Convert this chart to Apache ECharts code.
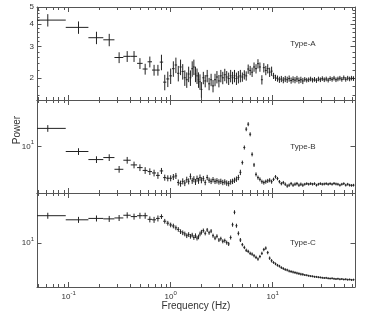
<!DOCTYPE html>
<html><head><meta charset="utf-8">
<script src="https://cdn.jsdelivr.net/npm/echarts@6/dist/echarts.min.js"></script>
<style>html,body{margin:0;padding:0;background:#fff}#c{width:374px;height:312px}</style>
</head><body><div id="c"></div>
<script>
// Frequencies (Hz)
const freq = [0.0625,0.125,0.1875,0.25,0.3125,0.375,0.4375,0.5,0.5625,0.625,0.6875,0.75,0.8125,0.875,0.9375,1.0,
  1.0625,1.125,1.1875,1.25,1.3125,1.375,1.4375,1.5,1.5625,1.625,1.6875,1.75,1.8125,1.875,1.9375,2.0,
  2.09,2.18,2.28,2.38,2.49,2.6,2.72,2.84,2.97,3.1,
  3.24,3.39,3.54,3.7,3.87,4.04,4.22,4.41,4.61,4.82,
  5.04,5.27,5.5,5.75,6.01,6.28,6.56,6.86,7.17,7.49,
  7.83,8.18,8.55,8.93,9.33,9.75,10.19,10.65,11.13,11.63,
  12.15,12.7,13.27,13.87,14.49,15.14,15.82,16.53,17.28,18.06,
  18.87,19.72,20.6,21.53,22.5,23.51,24.57,25.68,26.83,28.04,
  29.3,30.62,32.0,33.44,34.94,36.51,38.16,39.87,41.67,43.54,
  45.5,47.55,49.69,51.93,54.26,56.71,59.26,61.93];

// Power values
const powerA = [4.22,3.84,3.36,3.27,2.60,2.64,2.64,2.41,2.24,2.46,2.21,2.21,2.45,1.89,1.97,2.05,
  2.25,2.36,2.12,2.30,2.17,2.00,1.95,2.10,2.00,2.25,2.30,2.10,2.05,1.95,1.90,1.72,
  2.00,1.92,2.05,1.85,1.95,1.80,1.95,2.02,1.92,2.05,
  2.00,2.08,2.02,1.98,2.05,2.00,2.05,1.98,2.02,2.05,
  2.02,2.08,2.05,2.24,2.20,2.15,2.30,2.25,2.40,2.30,
  1.95,2.28,2.20,2.25,2.15,2.18,2.05,2.00,1.98,1.95,
  1.97,1.94,1.97,1.95,1.98,1.93,1.96,1.94,1.97,1.93,
  1.95,1.92,1.96,1.94,1.95,1.97,1.94,1.96,1.93,1.97,
  1.95,1.98,1.95,1.97,1.94,1.98,1.96,1.99,1.95,1.97,
  1.99,1.96,2.00,1.96,1.99,1.97,1.99,1.98];
const powerB = [13.1,9.28,8.23,8.48,7.12,8.15,7.6,7.3,7.0,6.88,6.74,6.5,6.95,6.29,6.23,6.23,
  6.35,6.45,5.85,5.75,5.95,5.8,6.1,5.95,6.4,6.0,6.15,5.9,6.2,6.0,6.3,6.05,
  6.2,5.85,6.3,6.05,5.95,6.1,5.95,6.0,5.9,5.95,
  5.85,5.9,5.8,5.75,5.9,5.95,6.05,6.15,6.3,6.8,
  7.87,9.85,12.95,13.95,12.0,8.9,7.6,6.6,6.29,6.13,
  5.92,5.84,5.92,5.99,6.05,5.92,6.13,6.37,6.2,5.92,
  5.75,5.84,5.7,5.55,5.62,5.75,5.62,5.7,5.75,5.62,
  5.7,5.62,5.7,5.75,5.7,5.75,5.7,5.75,5.62,5.7,
  5.75,5.7,5.72,5.75,5.7,5.75,5.7,5.77,5.72,5.7,
  5.62,5.7,5.75,5.62,5.7,5.62,5.6,5.62];
const powerC = [15.1,14.2,14.5,14.4,14.6,15.2,14.9,15.1,15.1,14.3,14.2,14.5,14.9,13.9,13.5,13.15,
  12.95,12.6,12.3,11.9,11.7,11.5,11.2,11.4,11.1,11.3,10.9,11.2,10.8,11.0,11.5,11.8,
  12.1,11.6,12.2,11.7,12.0,11.2,10.8,11.1,10.5,10.7,
  10.3,10.4,10.1,9.9,10.9,13.2,15.9,13.0,11.6,10.5,
  9.8,9.4,9.0,8.85,8.6,8.5,8.3,8.1,7.9,8.2,
  8.6,9.1,9.3,8.7,8.0,7.7,7.5,7.35,7.2,7.1,
  6.95,6.85,6.75,6.7,6.6,6.55,6.5,6.45,6.4,6.35,
  6.3,6.28,6.22,6.2,6.15,6.12,6.1,6.06,6.05,6.02,
  6.0,5.97,5.95,5.96,5.92,5.9,5.92,5.88,5.86,5.88,
  5.84,5.86,5.82,5.84,5.8,5.82,5.78,5.8];

// Relative errors (%)
const errA = [8,8,8,8,7,7,7,7,7,7,7,7,10,10,10,10,
  10,10,10,10,10,10,10,10,10,10,10,10,10,10,10,10,
  8,8,8,8,8,8,8,8,8,8, 8,8,8,8,8,8,8,8,8,8,
  6,6,6,6,6,6,6,6,6,6, 6,6,6,6,6,6,
  4,4,4,4, 4,4,4,4,4,4,4,4,4,4, 4,4,
  3,3,3,3,3,3,3,3, 3,3,3,3,3,3,3,3,3,3, 3,3,3,3,3,3,3,3];
const errB = [5,5,5,5,5,5,5,5,5,5,5,5,4.5,4.5,4.5,4.5,
  4.5,4.5,4.5,4.5,4.5,4.5,4.5,4.5,4.5,4.5,4.5,4.5,4.5,4.5,4.5,4.5,
  4,4,4,4,4,4,4,4,4,4, 4,4,4,4,4,4,4,4,4,4,
  3,3,3,3,3,3,3,3,3,3, 3,3,3,3,3,3,
  2.5,2.5,2.5,2.5, 2.5,2.5,2.5,2.5,2.5,2.5,2.5,2.5,2.5,2.5, 2.5,2.5,
  2,2,2,2,2,2,2,2, 2,2,2,2,2,2,2,2,2,2, 2,2,2,2,2,2,2,2];
const errC = [4.5,4.5,4.5,4.5,4.5,4.5,4.5,4.5,4.5,4.5,4.5,4.5,3.5,3.5,3.5,3.5,
  3.5,3.5,3.5,3.5,3.5,3.5,3.5,3.5,3.5,3.5,3.5,3.5,3.5,3.5,3.5,3.5,
  3,3,3,3,3,3,3,3,3,3, 3,3,3,3,3,3,3,3,3,3,
  2.5,2.5,2.5,2.5,2.5,2.5,2.5,2.5,2.5,2.5, 2.5,2.5,2.5,2.5,2.5,2.5,
  2,2,2,2, 2,2,2,2,2,2,2,2,2,2, 2,2,
  1.5,1.5,1.5,1.5,1.5,1.5,1.5,1.5, 1.5,1.5,1.5,1.5,1.5,1.5,1.5,1.5,1.5,1.5, 1.5,1.5,1.5,1.5,1.5,1.5,1.5,1.5];

// Ticks / labels
const xMajorTicks = [0.1, 1, 10];
const xMinorTicks = [0.05,0.06,0.07,0.08,0.09,0.2,0.3,0.4,0.5,0.6,0.7,0.8,0.9,2,3,4,5,6,7,8,9,20,30,40,50,60];
const yMajorA = [2,3,4,5];
const yMinorA = [1.6,1.8,2.2,2.4,2.6,2.8,3.2,3.4,3.6,3.8,4.2,4.4,4.6,4.8];
const yMajorBC = [10];
const panelLabels = ['Type-A','Type-B','Type-C'];
const xTitle = 'Frequency (Hz)';
const yTitle = 'Power';

const X_MIN = 0.049, X_MAX = 64;
const yRanges = [[1.5,5],[5,20],[5.2,21.2]];
const grids = [{top:6,height:94},{top:100,height:93},{top:193,height:94}];
const LC = '#555', TC = '#333';
const FONT = '"Liberation Sans", Arial, Helvetica, sans-serif';

function powLabel(v){ const e = Math.round(Math.log10(v)); return '10{s|' + e + '}'; }
const richSup = { s: { fontSize: 6, lineHeight: 6, verticalAlign: 'top', color: TC, fontFamily: FONT } };

const xAxes = [], yAxes = [], series = [];
function xAx(g, pos, ticks, len, showLine, showLabel){
  xAxes.push({type:'log', logBase:10, gridIndex:g, position:pos, min:X_MIN, max:X_MAX,
    axisLine:{show:showLine, onZero:false, lineStyle:{color:LC, width:1}},
    axisTick:{show:true, inside:true, length:len, customValues:ticks, lineStyle:{color:LC, width:1}},
    axisLabel:{show:showLabel, customValues:xMajorTicks, formatter:powLabel, rich:richSup,
      fontSize:8, lineHeight:14, color:TC, fontFamily:FONT, margin:3},
    splitLine:{show:false}, minorTick:{show:false}, minorSplitLine:{show:false}});
  return xAxes.length-1;
}
function yAx(g, pos, ticks, len, showLine, showLabel, fmt){
  const r = yRanges[g];
  yAxes.push({type:'log', logBase:10, gridIndex:g, position:pos, min:r[0], max:r[1],
    axisLine:{show:showLine, onZero:false, lineStyle:{color:LC, width:1}},
    axisTick:{show:true, inside:true, length:len, customValues:ticks, lineStyle:{color:LC, width:1}},
    axisLabel:{show:showLabel, customValues:ticks, formatter:fmt, rich:richSup,
      fontSize:8, lineHeight:14, color:TC, fontFamily:FONT, margin:3},
    splitLine:{show:false}, minorTick:{show:false}, minorSplitLine:{show:false}});
  return yAxes.length-1;
}

function renderItem(params, api){
  const x = api.value(0), y = api.value(1);
  const p0 = api.coord([api.value(2), y]);
  const p1 = api.coord([api.value(3), y]);
  const q0 = api.coord([x, api.value(4)]);
  const q1 = api.coord([x, api.value(5)]);
  const st = {stroke:'#222', lineWidth:1};
  return {type:'group', children:[
    {type:'line', shape:{x1:p0[0],y1:p0[1],x2:p1[0],y2:p1[1]}, style:st},
    {type:'line', shape:{x1:q0[0],y1:q0[1],x2:q1[0],y2:q1[1]}, style:st}
  ]};
}

function buildData(vals, errs){
  return freq.map((f,i)=>{
    const lo = i>0 ? (freq[i-1]+f)/2 : f-(freq[1]-freq[0])/2;
    const hi = i<freq.length-1 ? (freq[i+1]+f)/2 : f+(f-freq[i-1])/2;
    const e = errs[i]/100;
    return [f, vals[i], Math.max(lo, X_MIN), Math.min(hi, X_MAX), vals[i]*(1-e), vals[i]*(1+e)];
  });
}
const allVals = [powerA, powerB, powerC];
const allErrs = [errA, errB, errC];

for (let g=0; g<3; g++){
  const xb = xAx(g,'bottom',xMinorTicks,3,true,false);
  xAx(g,'bottom',xMajorTicks,5,false,g===2);
  xAx(g,'top',xMinorTicks,3,true,false);
  xAx(g,'top',xMajorTicks,5,false,false);
  let yl;
  if (g===0){
    yl = yAx(g,'left',yMinorA,2.5,true,false,null);
    yAx(g,'left',yMajorA,4.5,false,true,v=>String(v));
    yAx(g,'right',yMinorA,2.5,true,false,null);
    yAx(g,'right',yMajorA,4.5,false,false,null);
  } else {
    yl = yAx(g,'left',yMajorBC,4.5,true,true,powLabel);
    yAx(g,'right',yMajorBC,4.5,true,false,null);
  }
  series.push({type:'custom', name:panelLabels[g], xAxisIndex:xb, yAxisIndex:yl, clip:true,
    renderItem:renderItem, data:buildData(allVals[g], allErrs[g]), silent:true, animation:false});
}

const chart = echarts.init(document.getElementById('c'), null, {renderer:'canvas'});
chart.setOption({
  animation:false,
  textStyle:{fontFamily:FONT},
  grid: grids.map(g=>({left:37, right:19, top:g.top, height:g.height, containLabel:false})),
  xAxis: xAxes, yAxis: yAxes, series: series,
  graphic: [
    {type:'text', x:303, y:44, style:{text:panelLabels[0], fill:TC, font:'8px '+FONT, align:'center', verticalAlign:'middle'}},
    {type:'text', x:303, y:147, style:{text:panelLabels[1], fill:TC, font:'8px '+FONT, align:'center', verticalAlign:'middle'}},
    {type:'text', x:303, y:243, style:{text:panelLabels[2], fill:TC, font:'8px '+FONT, align:'center', verticalAlign:'middle'}},
    {type:'text', x:196, y:306, style:{text:xTitle, fill:TC, font:'10px '+FONT, align:'center', verticalAlign:'middle'}},
    {type:'text', x:17, y:130, rotation:Math.PI/2, style:{text:yTitle, fill:TC, font:'10px '+FONT, align:'center', verticalAlign:'middle'}}
  ]
});
</script></body></html>
